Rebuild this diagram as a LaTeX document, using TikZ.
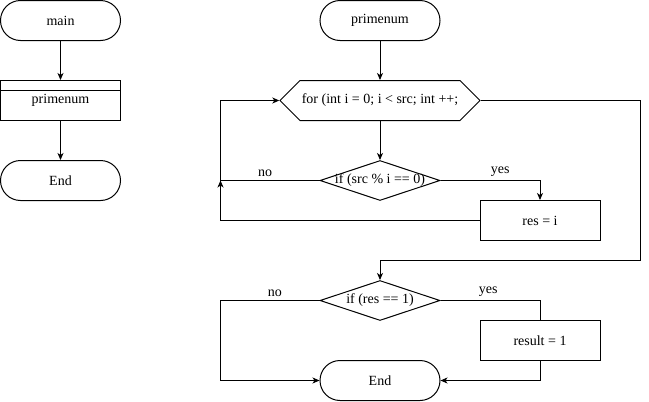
\documentclass[tikz,border=0pt]{standalone}
\usepackage{fontspec}
\setmainfont{Liberation Serif}
\usetikzlibrary{positioning}
\usetikzlibrary{shapes.geometric,shapes.symbols}
\usetikzlibrary{arrows.meta}
\tikzset{
term/.style={draw, rounded corners=20pt, minimum width=120pt, minimum height=40pt},
proc/.style={draw, minimum width=120pt, minimum height=40pt},
hexa/.style={draw, signal, signal to=west and east, signal pointer angle=90,
  minimum width=200pt, minimum height=40pt, inner sep=0pt},
decide/.style={draw, diamond, minimum width=120pt, minimum height=40pt, inner sep=0pt},
flow/.style={-{Stealth[length=7pt,width=6pt,inset=2pt]}}
}
\newcommand{\wide}[1]{\makebox[0pt]{#1}}

\begin{document}
\begin{tikzpicture}[x=1pt,y=-1pt,line width=1pt,font=\fontsize{14}{16}\selectfont,node distance=39pt]
\useasboundingbox (0,0) rectangle (649,402);

% left column
\node[term] (main) at (60.5,20.5) {main};
\node[proc, below=of main] (sub) {primenum};
\draw ([yshift=-10pt]sub.north west) -- ([yshift=-10pt]sub.north east);
\node[term, below=of sub] (end1) {End};

\draw[flow] (main) -- (sub);
\draw[flow] (sub) -- (end1);

% right column
\node[term] (prim) at (380,20.5) {primenum};
\node[hexa] (loop) at (380,100.5) {\wide{for (int i = 0; i < src; int ++;}};
\node[decide] (cond1) at (380,180.5) {\wide{if (src \% i == 0)}};
\node[proc] (resi) at (540,220.5) {res = i};
\node[decide] (cond2) at (380,300.5) {\wide{if (res == 1)}};
\node[proc] (res1) at (540,340.5) {result = 1};
\node[term] (end2) at (380,380.5) {End};

\coordinate (lft) at (220.5,0);
\coordinate (rgt) at (640.5,0);
\coordinate (jn) at (380,260.5);

\draw[flow] (prim) -- (loop);
\draw[flow] (loop) -- (cond1);
\draw[flow] (cond1.west) -- node[above,pos=0.55]{no} (cond1.west -| lft) |- (loop.west);
\draw[flow] (cond1.east) -| node[above,pos=0.3]{yes} (resi.north);
\draw[flow] (resi.west) -| (cond1.west -| lft);
\draw[flow] (loop.east) -| (jn -| rgt) -- (jn) -- (cond2.north);

\draw[flow] (cond2.west) -- node[above,pos=0.45]{no} (cond2.west -| lft) |- (end2.west);
\draw (cond2.east) -| node[above,pos=0.24]{yes} (res1.north);
\draw[flow] (res1.south) |- (end2.east);
\end{tikzpicture}
\end{document}
